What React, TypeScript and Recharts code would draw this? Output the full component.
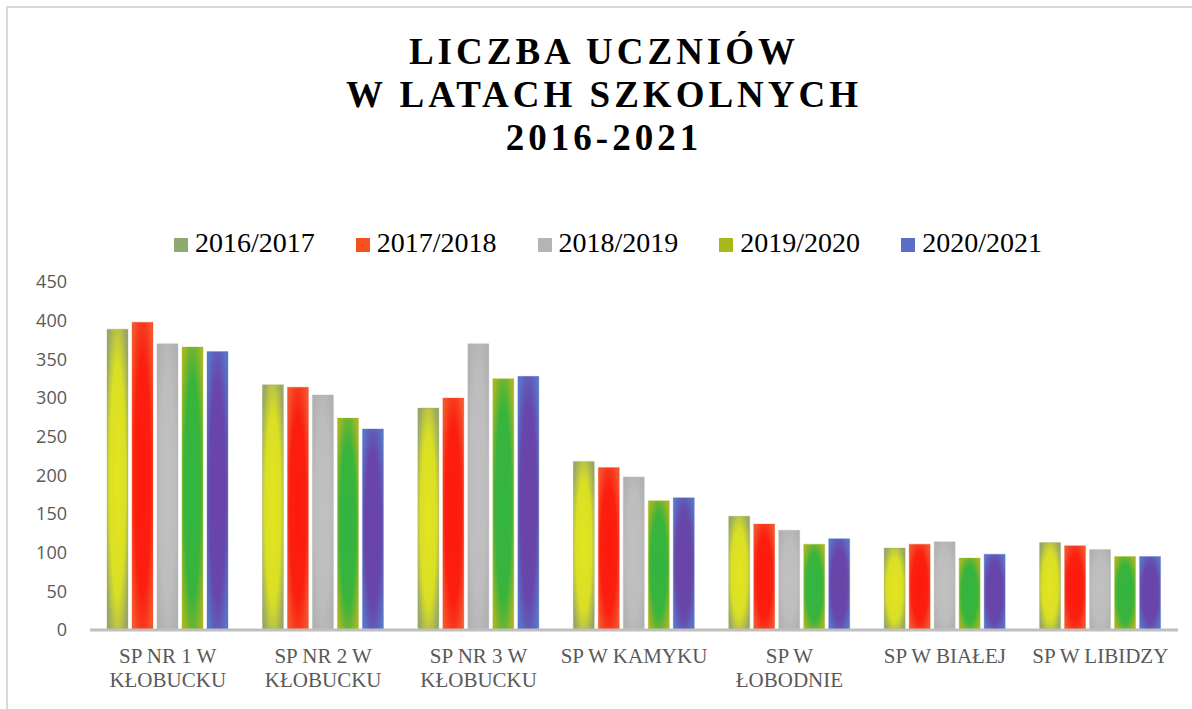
import { BarChart, Bar, XAxis, YAxis } from 'recharts';

// Liczba uczniów w szkołach podstawowych, lata 2016-2021

const categories = [
  'SP NR 1 W KŁOBUCKU',
  'SP NR 2 W KŁOBUCKU',
  'SP NR 3 W KŁOBUCKU',
  'SP W KAMYKU',
  'SP W ŁOBODNIE',
  'SP W BIAŁEJ',
  'SP W LIBIDZY',
];

const seriesNames = ['2016/2017', '2017/2018', '2018/2019', '2019/2020', '2020/2021'];

const values2016 = [389, 317, 287, 218, 147, 106, 113];
const values2017 = [398, 314, 300, 210, 137, 111, 109];
const values2018 = [370, 304, 370, 198, 129, 114, 104];
const values2019 = [366, 274, 325, 167, 111, 93, 95];
const values2020 = [360, 260, 328, 171, 118, 98, 95];

const yTicks = [0, 50, 100, 150, 200, 250, 300, 350, 400, 450];

const seriesValues = [values2016, values2017, values2018, values2019, values2020];

// radial gradient stops per series: [center, middle, edge]
const GRADIENTS = [
  ['#e4e521', '#d9df24', '#98a765'],
  ['#ff190a', '#fb1f10', '#f4552c'],
  ['#c1c1c1', '#bdbdbd', '#b1b1b1'],
  ['#31b542', '#39b43c', '#a3b624'],
  ['#6a43a8', '#6846aa', '#5874c9'],
];

const LEGEND_COLORS = ['#8faa70', '#f4511e', '#b4b4b4', '#a8b81a', '#5b6ec6'];

const chartData = categories.map((name, i) => {
  const row: Record<string, string | number> = { name };
  seriesNames.forEach((s, j) => {
    row[s] = seriesValues[j][i];
  });
  return row;
});

function wrapLabel(text: string, maxChars: number): string[] {
  const lines: string[] = [];
  let cur = '';
  text.split(' ').forEach((w) => {
    const next = cur ? cur + ' ' + w : w;
    if (next.length > maxChars && cur) {
      lines.push(cur);
      cur = w;
    } else {
      cur = next;
    }
  });
  if (cur) lines.push(cur);
  return lines;
}

function CategoryTick({ x, y, payload }: any) {
  const lines = wrapLabel(payload.value, 12);
  return (
    <text
      x={x}
      y={y}
      textAnchor="middle"
      fill="#595959"
      fontSize={21}
      fontFamily="'Liberation Serif', 'Times New Roman', serif"
    >
      {lines.map((l, i) => (
        <tspan key={i} x={x} dy={i === 0 ? 0 : 24}>
          {l}
        </tspan>
      ))}
    </text>
  );
}

export default function App() {
  return (
    <div
      style={{
        position: 'absolute',
        left: 0,
        top: 0,
        width: 1192,
        height: 709,
        overflow: 'hidden',
        background: '#ffffff',
      }}
    >
      {/* outer frame, cut off at right/bottom like the source */}
      <div
        style={{
          position: 'absolute',
          left: 6,
          top: 6,
          width: 1220,
          height: 740,
          border: '2px solid #d9d9d9',
        }}
      />

      {/* Title */}
      <div
        style={{
          position: 'absolute',
          left: 0,
          top: 30,
          width: 1208,
          textAlign: 'center',
          fontFamily: "'Liberation Serif', 'Times New Roman', serif",
          fontWeight: 'bold',
          fontSize: 37,
          lineHeight: '43px',
          letterSpacing: 4,
          color: '#000',
        }}
      >
        <div>LICZBA UCZNIÓW</div>
        <div>W LATACH SZKOLNYCH</div>
        <div>2016-2021</div>
      </div>

      {/* Legend */}
      <div
        style={{
          position: 'absolute',
          left: 174,
          top: 229,
          display: 'flex',
          fontFamily: "'Liberation Serif', 'Times New Roman', serif",
          fontSize: 28,
          lineHeight: '28px',
          color: '#000',
        }}
      >
        {seriesNames.map((s, i) => (
          <div key={s} style={{ display: 'flex', alignItems: 'center', marginRight: 41 }}>
            <span
              style={{
                display: 'inline-block',
                width: 14,
                height: 14,
                background: LEGEND_COLORS[i],
                marginRight: 7,
                marginTop: 3,
              }}
            />
            <span>{s}</span>
          </div>
        ))}
      </div>

      <div style={{ position: 'absolute', left: 0, top: 0 }}>
        <BarChart
          width={1192}
          height={709}
          data={chartData}
          margin={{ top: 282, right: 14, bottom: 49, left: 0 }}
          barSize={21}
          barGap={4}
        >
          <defs>
            {GRADIENTS.map((g, i) => (
              <radialGradient key={i} id={`grad${i}`} cx="50%" cy="50%" r="62%">
                <stop offset="0%" stopColor={g[0]} />
                <stop offset="62%" stopColor={g[1]} />
                <stop offset="100%" stopColor={g[2]} />
              </radialGradient>
            ))}
          </defs>
          <XAxis
            dataKey="name"
            interval={0}
            height={30}
            axisLine={{ stroke: '#bfbfbf', strokeWidth: 3 }}
            tickLine={false}
            tickSize={0}
            tickMargin={33}
            tick={<CategoryTick />}
          />
          <YAxis
            width={90}
            domain={[0, 450]}
            ticks={yTicks}
            axisLine={false}
            tickLine={false}
            tickSize={0}
            tickMargin={23}
            tick={{ fill: '#595959', fontSize: 18, fontFamily: "'Open Sans', sans-serif" }}
          />
          {seriesNames.map((s, i) => (
            <Bar
              key={s}
              dataKey={s}
              fill={`url(#grad${i})`}
              stroke={GRADIENTS[i][2]}
              strokeOpacity={0.35}
              strokeWidth={1}
              isAnimationActive={false}
            />
          ))}
        </BarChart>
      </div>
    </div>
  );
}
